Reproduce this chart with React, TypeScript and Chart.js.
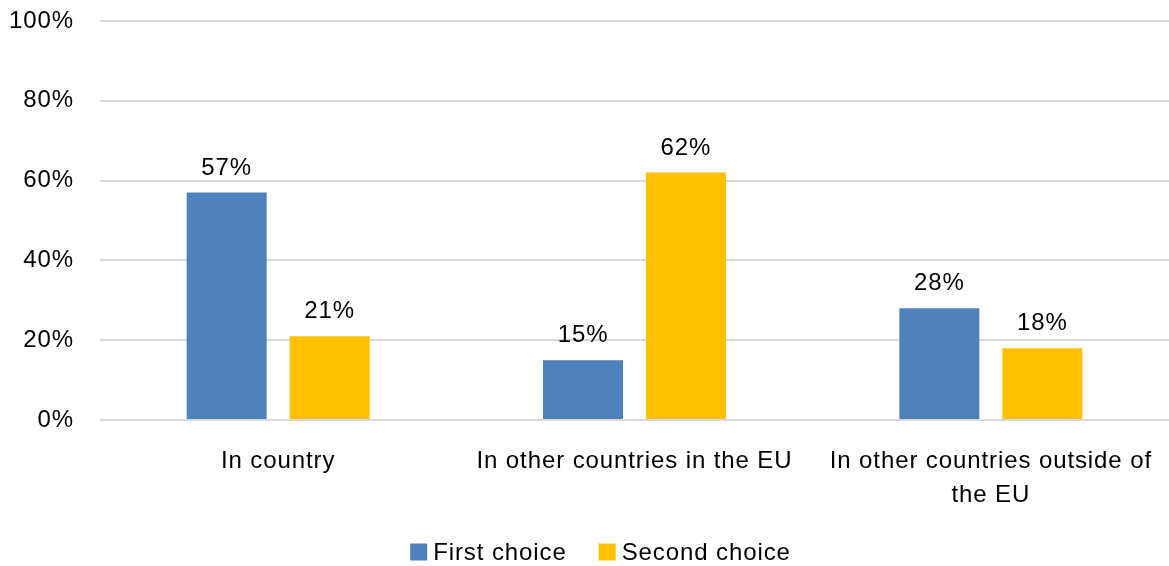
import React, { useEffect, useRef } from "react";
import { Chart, registerables } from "chart.js";

Chart.register(...registerables);

const categories: (string | string[])[] = [
  "In country",
  "In other countries in the EU",
  ["In other countries outside of", "the EU"],
];
const firstChoice = [0.57, 0.15, 0.28];
const secondChoice = [0.21, 0.62, 0.18];
const seriesNames = ["First choice", "Second choice"];

const FONT = "'Liberation Sans', Arial, sans-serif";
const SIZE = 24;
const SPACING = "0.9px";

const spacing = {
  id: "spacing",
  beforeUpdate(chart: any) {
    chart.ctx.letterSpacing = SPACING;
  },
  beforeDraw(chart: any) {
    chart.ctx.letterSpacing = SPACING;
  },
};

const valueLabels = {
  id: "valueLabels",
  afterDatasetsDraw(chart: any) {
    const ctx = chart.ctx;
    ctx.save();
    ctx.font = `${SIZE}px ${FONT}`;
    ctx.fillStyle = "#000";
    ctx.textAlign = "center";
    ctx.textBaseline = "alphabetic";
    chart.data.datasets.forEach((ds: any, i: number) => {
      const meta = chart.getDatasetMeta(i);
      meta.data.forEach((bar: any, j: number) => {
        const v = ds.data[j];
        ctx.fillText(Math.round(v * 100) + "%", bar.x, bar.y - 18);
      });
    });
    ctx.restore();
  },
};

// Legend drawn below the x axis: 17px square, text 23px from box start, 32px gap between items
const bottomLegend = {
  id: "bottomLegend",
  afterDraw(chart: any) {
    const ctx = chart.ctx;
    ctx.save();
    ctx.font = `${SIZE}px ${FONT}`;
    ctx.letterSpacing = SPACING;
    ctx.textBaseline = "middle";
    ctx.textAlign = "left";
    const box = 17;
    const textOff = 23;
    const gap = 32;
    const items = chart.data.datasets.map((ds: any) => ({
      label: ds.label,
      color: ds.backgroundColor,
      w: textOff + ctx.measureText(ds.label).width,
    }));
    const total = items.reduce((a: number, it: any) => a + it.w, 0) + gap * (items.length - 1);
    let x = (chart.width - total) / 2 + 16;
    const cy = chart.chartArea.bottom + 132;
    items.forEach((it: any) => {
      ctx.fillStyle = it.color;
      ctx.fillRect(x, cy - box / 2, box, box);
      ctx.fillStyle = "#000";
      ctx.fillText(it.label, x + textOff, cy + 1);
      x += it.w + gap;
    });
    ctx.restore();
  },
};

const noPad = (s: any) => {
  s.paddingLeft = 0;
  s.paddingRight = 0;
  s.paddingTop = 0;
  s.paddingBottom = 0;
};

export default function App() {
  const ref = useRef<HTMLCanvasElement>(null);
  useEffect(() => {
    document.body.style.margin = "0";
    const chart = new Chart(ref.current!, {
      type: "bar",
      data: {
        labels: categories,
        datasets: [
          {
            label: seriesNames[0],
            data: firstChoice,
            backgroundColor: "#4F81BD",
            categoryPercentage: 0.578,
            barPercentage: 0.777,
          },
          {
            label: seriesNames[1],
            data: secondChoice,
            backgroundColor: "#FFC000",
            categoryPercentage: 0.578,
            barPercentage: 0.777,
          },
        ],
      },
      options: {
        animation: false,
        responsive: false,
        maintainAspectRatio: false,
        layout: { padding: { top: 21, left: 10, right: 0, bottom: 52 } },
        scales: {
          x: {
            grid: { display: false },
            border: { display: false },
            ticks: {
              color: "#000",
              font: { family: FONT, size: SIZE, lineHeight: 1.4 },
              padding: 17,
              maxRotation: 0,
              autoSkip: false,
            },
            afterFit: (s: any) => {
              noPad(s);
              s.height = 94;
            },
          },
          y: {
            min: 0,
            max: 1,
            ticks: {
              stepSize: 0.2,
              color: "#000",
              font: { family: FONT, size: SIZE },
              padding: 26,
              callback: (v: any) => Math.round(Number(v) * 100) + "%",
            },
            grid: { color: "#D9D9D9", lineWidth: 2, drawTicks: false },
            border: { display: false },
            afterFit: (s: any) => {
              noPad(s);
              s.width = 90;
            },
          },
        },
        plugins: {
          legend: { display: false },
          tooltip: { enabled: false },
        },
      },
      plugins: [spacing, valueLabels, bottomLegend],
    });
    return () => chart.destroy();
  }, []);
  return (
    <div style={{ width: 1169, height: 566 }}>
      <canvas ref={ref} width={1169} height={566} style={{ display: "block" }} />
    </div>
  );
}
